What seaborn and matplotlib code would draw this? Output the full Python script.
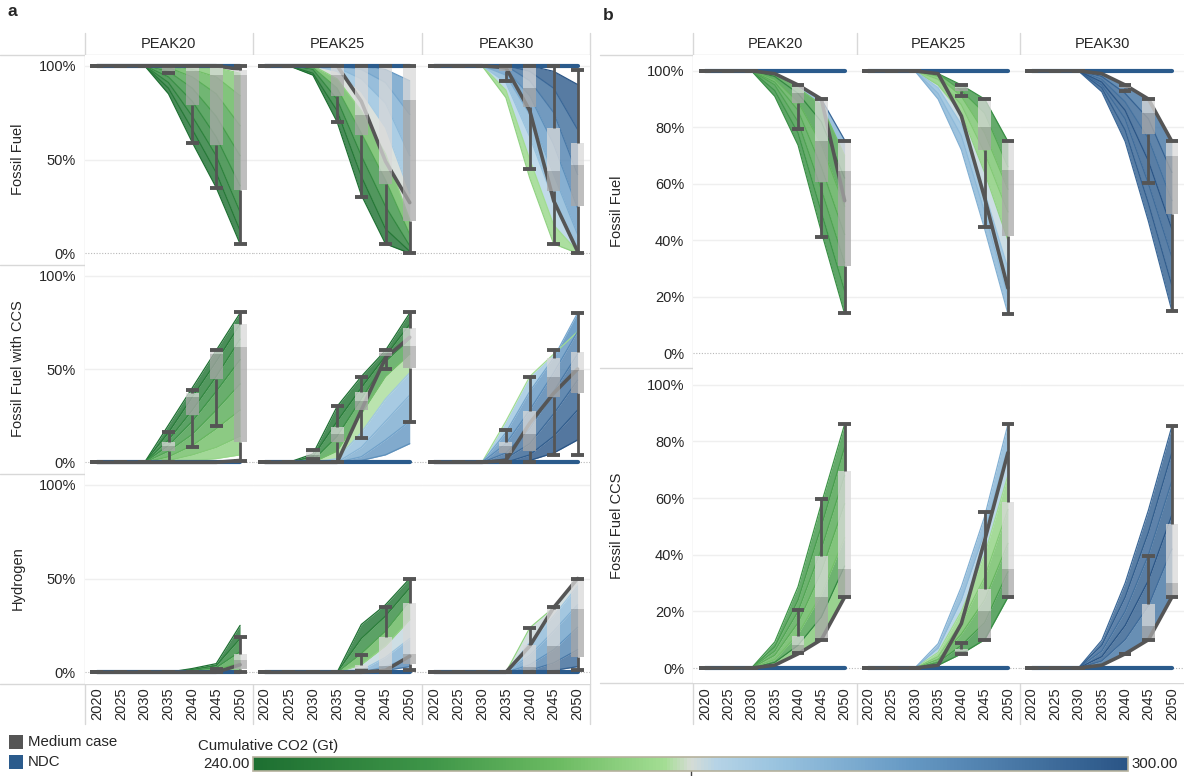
import matplotlib
matplotlib.use("Agg")
import matplotlib.pyplot as plt
import seaborn as sns
import pandas as pd
from matplotlib.colors import LinearSegmentedColormap, Normalize
from matplotlib.lines import Line2D
from matplotlib.patches import Rectangle
from matplotlib.cm import ScalarMappable

# ---------------- data ----------------
YEARS = [2020, 2025, 2030, 2035, 2040, 2045, 2050]
PEAKS = ["PEAK20", "PEAK25", "PEAK30"]
ROWS_A = ["Fossil Fuel", "Fossil Fuel with CCS", "Hydrogen"]
ROWS_B = ["Fossil Fuel", "Fossil Fuel CCS"]
CO2_MIN, CO2_MAX = 240, 300
YTICKS_A = [0, 50, 100]
YTICKS_B = [0, 20, 40, 60, 80, 100]

# scenario lines: (cumulative CO2 [Gt], share [%] per year)
A_FF_LINES = {
    "PEAK20": [(240, [100, 100, 100, 85, 59, 35, 5]),
               (243, [100, 100, 100, 88, 66, 43, 12]),
               (246, [100, 100, 100, 91, 73, 52, 22]),
               (250, [100, 100, 100, 94, 81, 62, 36]),
               (254, [100, 100, 100, 97, 88, 73, 52]),
               (258, [100, 100, 100, 99, 94, 85, 68]),
               (262, [100, 100, 100, 100, 98, 94, 84]),
               (266, [100, 100, 100, 100, 100, 99, 96])],
    "PEAK25": [(240, [100, 100, 95, 70, 31, 5, 0]),
               (243, [100, 100, 96, 76, 41, 13, 1]),
               (248, [100, 100, 98, 82, 52, 25, 4]),
               (256, [100, 100, 99, 88, 64, 39, 10]),
               (266, [100, 100, 100, 93, 76, 53, 18]),
               (274, [100, 100, 100, 97, 86, 67, 32]),
               (278, [100, 100, 100, 99, 93, 80, 52]),
               (282, [100, 100, 100, 100, 98, 91, 74]),
               (285, [100, 100, 100, 100, 100, 98, 92])],
    "PEAK30": [(266, [100, 100, 100, 83, 40, 5, 0]),
               (268, [100, 100, 100, 87, 50, 15, 1]),
               (276, [100, 100, 100, 91, 62, 28, 4]),
               (281, [100, 100, 100, 95, 74, 42, 10]),
               (287, [100, 100, 100, 98, 84, 58, 24]),
               (292, [100, 100, 100, 100, 92, 75, 42]),
               (296, [100, 100, 100, 100, 97, 88, 66]),
               (300, [100, 100, 100, 100, 100, 97, 90])],
}
A_CCS_LINES = {
    "PEAK20": [(240, [0, 0, 0, 20, 40, 60, 80]),
               (244, [0, 0, 0, 16, 35, 54, 74]),
               (248, [0, 0, 0, 12, 28, 46, 66]),
               (252, [0, 0, 0, 9, 22, 38, 55]),
               (256, [0, 0, 0, 6, 15, 28, 42]),
               (260, [0, 0, 0, 3, 9, 18, 28]),
               (264, [0, 0, 0, 1, 4, 8, 14]),
               (267, [0, 0, 0, 0, 1, 2, 4])],
    "PEAK25": [(240, [0, 0, 4.5, 30, 46, 60, 80]),
               (244, [0, 0, 3, 22, 40, 57, 74]),
               (250, [0, 0, 1, 14, 34, 54, 66]),
               (262, [0, 0, 0, 6, 26, 46, 58]),
               (275, [0, 0, 0, 2, 16, 34, 48]),
               (279, [0, 0, 0, 0, 8, 22, 36]),
               (283, [0, 0, 0, 0, 3, 12, 22]),
               (287, [0, 0, 0, 0, 1, 4, 10])],
    "PEAK30": [(268, [0, 0, 0, 22, 46, 58, 70]),
               (282, [0, 0, 0, 16, 38, 56, 80]),
               (288, [0, 0, 0, 10, 28, 48, 70]),
               (292, [0, 0, 0, 5, 18, 38, 58]),
               (295, [0, 0, 0, 2, 10, 26, 44]),
               (298, [0, 0, 0, 0, 4, 14, 28]),
               (300, [0, 0, 0, 0, 1, 5, 12])],
}
A_H2_LINES = {
    "PEAK20": [(240, [0, 0, 0, 0, 2, 4.6, 25]),
               (245, [0, 0, 0, 0, 1.5, 3.5, 18]),
               (252, [0, 0, 0, 0, 1, 2.5, 11]),
               (260, [0, 0, 0, 0, 0.5, 1.5, 5]),
               (266, [0, 0, 0, 0, 0, 0.5, 1])],
    "PEAK25": [(240, [0, 0, 0, 0, 25.5, 36, 50]),
               (245, [0, 0, 0, 0, 18, 30, 45]),
               (255, [0, 0, 0, 0, 10, 22, 38]),
               (266, [0, 0, 0, 0, 4, 14, 28]),
               (276, [0, 0, 0, 0, 1, 8, 18]),
               (284, [0, 0, 0, 0, 0, 3, 8]),
               (292, [0, 0, 0, 0, 0, 1, 3])],
    "PEAK30": [(266, [0, 0, 0, 0, 23.7, 34.5, 50]),
               (275, [0, 0, 0, 0, 16, 30, 46]),
               (280, [0, 0, 0, 0, 9, 22, 36]),
               (286, [0, 0, 0, 0, 4, 12, 24]),
               (292, [0, 0, 0, 0, 1, 5, 12]),
               (298, [0, 0, 0, 0, 0, 1, 3])],
}
B_FF_LINES = {
    "PEAK20": [(250, [100, 100, 100, 91, 73.7, 43, 14]),
               (252, [100, 100, 100, 93, 78, 50, 22]),
               (255, [100, 100, 100, 95, 82, 58, 32]),
               (257, [100, 100, 100, 96, 86, 66, 42]),
               (259, [100, 100, 100, 97, 89, 74, 52]),
               (248, [100, 100, 100, 98, 92, 82, 62]),
               (262, [100, 100, 100, 99, 94, 88, 70]),
               (296, [100, 100, 100, 99, 95, 90, 75.5])],
    "PEAK25": [(280, [100, 100, 100, 90, 72, 44, 14]),
               (278, [100, 100, 100, 92, 77, 50, 20]),
               (276, [100, 100, 100, 94, 81, 57, 30]),
               (266, [100, 100, 100, 95, 85, 64, 40]),
               (264, [100, 100, 100, 97, 88, 71, 50]),
               (262, [100, 100, 100, 98, 91, 78, 58]),
               (256, [100, 100, 100, 99, 93, 85, 66]),
               (250, [100, 100, 100, 99, 95, 90, 75])],
    "PEAK30": [(296, [100, 100, 100, 92.6, 75, 46.6, 15]),
               (298, [100, 100, 100, 94, 79, 53, 24]),
               (295, [100, 100, 100, 95, 83, 60, 34]),
               (300, [100, 100, 100, 96, 86, 68, 44]),
               (294, [100, 100, 100, 97, 89, 76, 54]),
               (297, [100, 100, 100, 98, 92, 83, 64]),
               (288, [100, 100, 100, 99, 95, 90, 75])],
}
B_CCS_LINES = {
    "PEAK20": [(252, [0, 0, 0, 9.2, 28.7, 58, 86]),
               (254, [0, 0, 0, 7.5, 24, 50, 78]),
               (256, [0, 0, 0, 6, 20, 42, 68]),
               (258, [0, 0, 0, 4.5, 16, 34, 58]),
               (262, [0, 0, 0, 3, 12, 26, 46]),
               (248, [0, 0, 0, 2, 8, 18, 36]),
               (280, [0, 0, 0, 1, 5, 10, 25])],
    "PEAK25": [(280, [0, 0, 0, 8.6, 28.7, 53.5, 86]),
               (278, [0, 0, 0, 7, 24, 48, 78]),
               (268, [0, 0, 0, 5.5, 20, 40, 68]),
               (264, [0, 0, 0, 4, 16, 32, 56]),
               (260, [0, 0, 0, 3, 12, 24, 44]),
               (254, [0, 0, 0, 2, 8, 16, 34]),
               (250, [0, 0, 0, 1, 5, 10, 25])],
    "PEAK30": [(296, [0, 0, 0, 9.8, 30, 55.8, 85.3]),
               (298, [0, 0, 0, 8, 25, 48, 76]),
               (294, [0, 0, 0, 6, 20, 40, 66]),
               (300, [0, 0, 0, 4, 15, 31, 54]),
               (295, [0, 0, 0, 2.5, 10, 22, 42]),
               (290, [0, 0, 0, 1, 5, 10, 25])],
}

# box plots: year -> [low whisker, q1, median, q3, high whisker]
A_FF_BOX = {
    "PEAK20": {2020: [100, 100, 100, 100, 100], 2025: [100, 100, 100, 100, 100], 2030: [100, 100, 100, 100, 100],
               2035: [96, 97, 99, 100, 100], 2040: [59, 79, 97, 100, 100],
               2045: [35, 58, 95, 100, 100], 2050: [5, 34, 95, 98, 100]},
    "PEAK25": {2020: [100, 100, 100, 100, 100], 2025: [100, 100, 100, 100, 100], 2030: [100, 100, 100, 100, 100],
               2035: [70, 84, 95, 100, 100], 2040: [30, 63, 74, 100, 100],
               2045: [5, 37, 44, 100, 100], 2050: [0, 17, 82, 100, 100]},
    "PEAK30": {2020: [100, 100, 100, 100, 100], 2025: [100, 100, 100, 100, 100], 2030: [100, 100, 100, 100, 100],
               2035: [92, 97, 99, 100, 100], 2040: [45, 78, 88, 100, 100],
               2045: [5, 33, 44, 67, 100], 2050: [0, 25, 47, 59, 98]},
}
A_CCS_BOX = {
    "PEAK20": {2020: [0, 0, 0, 0, 0], 2025: [0, 0, 0, 0, 0], 2030: [0, 0, 0, 0, 0],
               2035: [0, 6, 9, 11, 16], 2040: [8, 25.5, 35, 37, 39],
               2045: [19.6, 44.6, 58, 60, 60], 2050: [0.7, 11, 61.6, 74, 80.7]},
    "PEAK25": {2020: [0, 0, 0, 0, 0], 2025: [0, 0, 0, 0, 0], 2030: [2, 2.5, 4, 6, 6.5],
               2035: [0, 10.7, 15, 19, 30], 2040: [12.8, 28, 33, 37.5, 45.5],
               2045: [50, 57, 58.5, 60, 60], 2050: [21.8, 50.4, 62.5, 71.8, 80.7]},
    "PEAK30": {2020: [0, 0, 0, 0, 0], 2025: [0, 0, 0, 0, 0], 2030: [0, 0, 0, 0, 0],
               2035: [0, 5, 9, 11, 17.5], 2040: [0, 6, 15, 27.7, 45.5],
               2045: [4, 35, 45.5, 56, 60], 2050: [4, 37, 49.5, 59, 80]},
}
A_H2_BOX = {
    "PEAK20": {2020: [0, 0, 0, 0, 0], 2025: [0, 0, 0, 0, 0], 2030: [0, 0, 0, 0, 0], 2035: [0, 0, 0, 0, 0],
               2040: [0, 0, 0, 0, 0], 2045: [0, 0, 0.5, 1.5, 1.5], 2050: [0, 2, 6.4, 9.5, 19]},
    "PEAK25": {2020: [0, 0, 0, 0, 0], 2025: [0, 0, 0, 0, 0], 2030: [0, 0, 0, 0, 0], 2035: [0, 0, 0, 0, 0],
               2040: [0.5, 1, 2.5, 4, 9], 2045: [0, 1, 3.6, 18.6, 35], 2050: [1.4, 4.6, 10, 37, 50]},
    "PEAK30": {2020: [0, 0, 0, 0, 0], 2025: [0, 0, 0, 0, 0], 2030: [0, 0, 0, 0, 0], 2035: [0, 0, 0, 0, 0],
               2040: [0, 1, 3, 14.5, 23.7], 2045: [0, 1.4, 14, 33.6, 35], 2050: [1.4, 8, 34, 50, 50]},
}
B_FF_BOX = {
    "PEAK20": {2020: [100, 100, 100, 100, 100], 2025: [100, 100, 100, 100, 100], 2030: [100, 100, 100, 100, 100],
               2040: [79.4, 88.7, 92, 95, 95], 2045: [41, 60.7, 75, 90.2, 90.2], 2050: [14.1, 30.7, 64.5, 75, 75]},
    "PEAK25": {2020: [100, 100, 100, 100, 100], 2025: [100, 100, 100, 100, 100], 2030: [100, 100, 100, 100, 100],
               2040: [91, 93, 94, 95, 95], 2045: [44.6, 71.9, 80, 90.2, 90.2], 2050: [13.8, 41.5, 64.9, 75, 75]},
    "PEAK30": {2020: [100, 100, 100, 100, 100], 2025: [100, 100, 100, 100, 100], 2030: [100, 100, 100, 100, 100],
               2040: [93, 94, 94.5, 95, 95], 2045: [60.4, 77.6, 85, 90.2, 90.2], 2050: [15, 49.3, 70, 75, 75]},
}
B_CCS_BOX = {
    "PEAK20": {2020: [0, 0, 0, 0, 0], 2025: [0, 0, 0, 0, 0], 2030: [0, 0, 0, 0, 0],
               2040: [5.3, 5.3, 8, 11.3, 20.6], 2045: [10, 10, 25, 39.5, 59.6], 2050: [25, 25, 35, 69.6, 86]},
    "PEAK25": {2020: [0, 0, 0, 0, 0], 2025: [0, 0, 0, 0, 0], 2030: [0, 0, 0, 0, 0],
               2040: [5, 5, 6, 6.8, 8.8], 2045: [10, 10, 20, 28, 55.2], 2050: [25, 25, 34.8, 58.5, 86.3]},
    "PEAK30": {2020: [0, 0, 0, 0, 0], 2025: [0, 0, 0, 0, 0], 2030: [0, 0, 0, 0, 0],
               2040: [5, 5, 5, 5, 5], 2045: [10, 10, 15, 22.5, 39.5], 2050: [25, 25, 30, 50.9, 85.3]},
}

# medium case and NDC series (%)
A_FF_MEDIUM = {"PEAK20": [100, 100, 100, 100, 100, 100, 98],
               "PEAK25": [100, 100, 100, 100, 81, 49, 27],
               "PEAK30": [100, 100, 100, 99, 76, 28, 1]}
A_CCS_MEDIUM = {"PEAK20": [0, 0, 0, 0, 0, 0, 1],
                "PEAK25": [0, 0, 0, 0, 28, 56, 67],
                "PEAK30": [0, 0, 0, 1, 21, 37, 50]}
A_H2_MEDIUM = {"PEAK20": [0, 0, 0, 0, 0, 0, 4],
               "PEAK25": [0, 0, 0, 0, 0, 1, 8.6],
               "PEAK30": [0, 0, 0, 0, 14, 34.5, 50]}
B_FF_MEDIUM = {"PEAK20": [100, 100, 100, 99, 95, 90, 54],
               "PEAK25": [100, 100, 100, 99, 84, 55, 23],
               "PEAK30": [100, 100, 100, 99, 95, 90, 75]}
B_CCS_MEDIUM = {"PEAK20": [0, 0, 0, 1, 5, 10, 25],
                "PEAK25": [0, 0, 0, 1, 15.7, 45, 76],
                "PEAK30": [0, 0, 0, 1, 5, 10, 25]}
NDC_FF = [100, 100, 100, 100, 100, 100, 100]
NDC_ZERO = [0, 0, 0, 0, 0, 0, 0]

# ---------------- style ----------------
sns.set_style("white")
plt.rcParams['font.family'] = ['Liberation Sans', 'DejaVu Sans']

cmap = LinearSegmentedColormap.from_list("greenblue", [
    (0.0, "#1d6f31"), (0.2, "#3e9548"), (0.35, "#6cbb62"), (0.47, "#a3dd93"),
    (0.5, "#d5dcd5"), (0.53, "#b5d3e6"), (0.6, "#99c3df"), (0.75, "#6699c4"),
    (1.0, "#2a5586")])
norm = Normalize(CO2_MIN, CO2_MAX)
MED_COLOR = "#555555"
NDC_COLOR = "#2b5b8c"
SEP_COLOR = "#d8d8d8"
TXT = "#262626"
FS = 10.5
BOX_W = 2.7
CAP = 1.35

W, H = 1184, 776
fig = plt.figure(figsize=(W / 100, H / 100), dpi=100)


def axes_px(x0, x1, y0, y1):
    return fig.add_axes([x0 / W, 1 - y1 / H, (x1 - x0) / W, (y1 - y0) / H])


def fig_line(x0, x1, y0, y1, color=SEP_COLOR, lw=1.0):
    fig.add_artist(Line2D([x0 / W, x1 / W], [1 - y0 / H, 1 - y1 / H],
                          transform=fig.transFigure, color=color, lw=lw, zorder=0))


def draw_panel(ax, lines, box, medium, ndc, yticks, ylim, show_y, show_x):
    ax.set_xlim(2017.5, 2052.6)
    ax.set_ylim(*ylim)
    ax.set_facecolor("white")
    for s in ax.spines.values():
        s.set_visible(False)
    for t in yticks[1:]:
        ax.axhline(t, color="#efefef", lw=1, zorder=0)
    ax.axhline(0, color="#b8b8b8", lw=0.8, ls=(0, (1, 1.5)), zorder=0)
    # bands between neighbouring scenario lines
    for (c1, v1), (c2, v2) in zip(lines[:-1], lines[1:]):
        ax.fill_between(YEARS, v1, v2, color=cmap(norm((c1 + c2) / 2)), alpha=0.82, lw=0, zorder=1)
    rows = []
    for i, (c, vals) in enumerate(lines):
        for yr, v in zip(YEARS, vals):
            rows.append({"year": yr, "value": v, "co2": c, "id": i})
    df = pd.DataFrame(rows)
    sns.lineplot(data=df, x="year", y="value", hue="co2", units="id", estimator=None,
                 palette=cmap, hue_norm=norm, legend=False, lw=0.9, ax=ax, zorder=2)
    sns.lineplot(x=YEARS, y=ndc, color=NDC_COLOR, lw=3.0, ax=ax, zorder=3,
                 solid_capstyle="round")
    sns.lineplot(x=YEARS, y=medium, color=MED_COLOR, lw=2.6, ax=ax, zorder=4,
                 solid_capstyle="round")
    for yr, (lo, q1, med, q3, hi) in box.items():
        ax.bar(yr, med - q1, bottom=q1, width=BOX_W, color="#a8a8a8", alpha=0.75, lw=0, zorder=5)
        ax.bar(yr, q3 - med, bottom=med, width=BOX_W, color="#d9d9d9", alpha=0.75, lw=0, zorder=5)
        ax.vlines(yr, lo, q1, color=MED_COLOR, lw=2.0, zorder=6)
        ax.vlines(yr, q3, hi, color=MED_COLOR, lw=2.0, zorder=6)
        ax.hlines([lo, hi], yr - CAP, yr + CAP, color=MED_COLOR, lw=2.8, zorder=6)
    ax.set_xlabel("")
    ax.set_ylabel("")
    ax.set_xticks(YEARS)
    ax.set_yticks(yticks)
    ax.tick_params(length=0)
    if show_x:
        ax.set_xticklabels([str(y) for y in YEARS], rotation=90, fontsize=FS, color=TXT)
        ax.tick_params(axis="x", pad=3)
        ax.set_xticks([y + 2.5 for y in YEARS[:-1]], minor=True)
        ax.tick_params(axis="x", which="minor", length=27, color="#eeeeee", width=0.8)
    else:
        ax.tick_params(labelbottom=False)
    if show_y:
        ax.set_yticklabels([f"{t}%" for t in yticks], fontsize=FS, color=TXT)
        ax.tick_params(axis="y", pad=6.5)
    else:
        ax.tick_params(labelleft=False)


A_X = [85, 252.5, 422.3, 590]
A_Y = [54.5, 264.5, 473.5, 683.5]
B_X = [693.3, 856.7, 1020, 1184]
B_Y = [54.5, 368.3, 683.3]

a_rows = [(A_FF_LINES, A_FF_BOX, A_FF_MEDIUM, NDC_FF),
          (A_CCS_LINES, A_CCS_BOX, A_CCS_MEDIUM, NDC_ZERO),
          (A_H2_LINES, A_H2_BOX, A_H2_MEDIUM, NDC_ZERO)]
b_rows = [(B_FF_LINES, B_FF_BOX, B_FF_MEDIUM, NDC_FF),
          (B_CCS_LINES, B_CCS_BOX, B_CCS_MEDIUM, NDC_ZERO)]

for r, (lines, box, med, ndc) in enumerate(a_rows):
    for c, peak in enumerate(PEAKS):
        ax = axes_px(A_X[c], A_X[c + 1], A_Y[r], A_Y[r + 1])
        draw_panel(ax, lines[peak], box[peak], med[peak], ndc, YTICKS_A, (-6, 106),
                   c == 0, r == len(a_rows) - 1)
for r, (lines, box, med, ndc) in enumerate(b_rows):
    for c, peak in enumerate(PEAKS):
        ax = axes_px(B_X[c], B_X[c + 1], B_Y[r], B_Y[r + 1])
        draw_panel(ax, lines[peak], box[peak], med[peak], ndc, YTICKS_B, (-5.4, 105.8),
                   c == 0, r == len(b_rows) - 1)

# separators
for x in A_X:
    fig_line(x, x, 33, 724)
for x in B_X[:-1]:
    fig_line(x, x, 33, 724)
for y in A_Y:
    fig_line(0, 590, y, y)
for y in B_Y:
    fig_line(600, 1184, y, y)

# strip labels, row labels, panel letters
for c, peak in enumerate(PEAKS):
    fig.text((A_X[c] + A_X[c + 1]) / 2 / W, 1 - 44 / H, peak, ha="center", va="center", fontsize=FS, color=TXT)
    fig.text((B_X[c] + B_X[c + 1]) / 2 / W, 1 - 44 / H, peak, ha="center", va="center", fontsize=FS, color=TXT)
for r, lab in enumerate(ROWS_A):
    fig.text(18 / W, 1 - (A_Y[r] + A_Y[r + 1]) / 2 / H, lab, rotation=90, ha="center", va="center",
             fontsize=FS, color=TXT)
for r, lab in enumerate(ROWS_B):
    fig.text(617 / W, 1 - (B_Y[r] + B_Y[r + 1]) / 2 / H, lab, rotation=90, ha="center", va="center",
             fontsize=FS, color=TXT)
fig.text(8 / W, 1 - 12 / H, "a", fontsize=12.5, fontweight="bold", ha="left", va="center")
fig.text(603 / W, 1 - 15 / H, "b", fontsize=12.5, fontweight="bold", ha="left", va="center")

# legend
fig.add_artist(Rectangle((9 / W, 1 - 749 / H), 14 / W, 14 / H, transform=fig.transFigure,
                         color=MED_COLOR, lw=0))
fig.add_artist(Rectangle((9 / W, 1 - 769 / H), 14 / W, 14 / H, transform=fig.transFigure,
                         color=NDC_COLOR, lw=0))
fig.text(28 / W, 1 - 742.5 / H, "Medium case", fontsize=10.8, ha="left", va="center", color=TXT)
fig.text(28 / W, 1 - 762.5 / H, "NDC", fontsize=10.8, ha="left", va="center", color=TXT)

# colour bar
cax = axes_px(253, 1128, 757, 771)
cb = fig.colorbar(ScalarMappable(norm=norm, cmap=cmap), cax=cax, orientation="horizontal")
cb.set_ticks([])
cb.outline.set_edgecolor("#b5b19d")
cb.outline.set_linewidth(1.2)
fig.text(198 / W, 1 - 746 / H, "Cumulative CO2 (Gt)", fontsize=10.8, ha="left", va="center", color=TXT)
fig.text(250 / W, 1 - 764 / H, f"{CO2_MIN:.2f}", fontsize=10.8, ha="right", va="center", color=TXT)
fig.text(1131 / W, 1 - 764 / H, f"{CO2_MAX:.2f}", fontsize=10.8, ha="left", va="center", color=TXT)
fig_line(690.5, 690.5, 771, 776, color="#444444", lw=1)

fig.savefig("out.png", dpi=100)
